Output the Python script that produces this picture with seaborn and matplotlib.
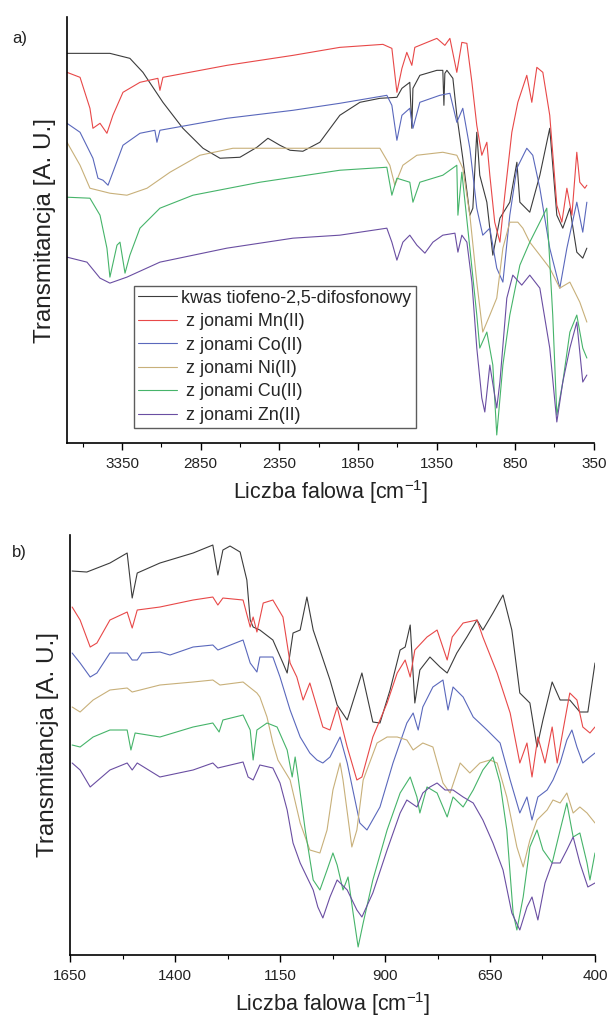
import matplotlib
matplotlib.use("Agg")
import matplotlib.pyplot as plt
import pandas as pd
import seaborn as sns
from matplotlib.ticker import FixedLocator

sns.set_theme(style="white")
plt.rcParams['font.family'] = ['Liberation Sans', 'DejaVu Sans']
plt.rcParams['mathtext.fontset'] = 'custom'
plt.rcParams['mathtext.rm'] = 'Liberation Sans'
plt.rcParams['mathtext.it'] = 'Liberation Sans'

SERIES = ["kwas tiofeno-2,5-difosfonowy", " z jonami Mn(II)", " z jonami Co(II)",
          " z jonami Ni(II)", " z jonami Cu(II)", " z jonami Zn(II)"]
COLORS = ["#3c3c3c", "#e84848", "#5a68bc", "#c8b07a", "#46b46a", "#6a4ea2"]

# ---------------- panel a (3700-350 cm-1) ----------------
A_KWAS_WN = [3700, 3427, 3300, 3217, 3090, 2963, 2835, 2727, 2600, 2492, 2422, 2346, 2282, 2200, 2092, 1965, 1837, 1710, 1602, 1570, 1520, 1507, 1500, 1456, 1348, 1310, 1303, 1297, 1284, 1246, 1221, 1183, 1138, 1119, 1094, 1075, 1030, 992, 947, 884, 839, 820, 757, 693, 630, 585, 547, 502, 458, 420, 394]
A_KWAS_T = [390, 390, 385, 371, 341, 315, 295, 285, 286, 296, 305, 298, 293, 292, 301, 328, 341, 345, 346, 355, 361, 315, 355, 368, 373, 373, 338, 370, 373, 365, 328, 285, 228, 235, 311, 268, 241, 188, 225, 241, 281, 241, 231, 268, 315, 228, 215, 235, 191, 185, 195]

A_MN_WN = [3700, 3617, 3554, 3535, 3490, 3446, 3408, 3344, 3236, 3122, 3109, 3090, 2683, 2263, 1965, 1691, 1634, 1602, 1570, 1539, 1507, 1488, 1348, 1297, 1265, 1221, 1189, 1157, 1125, 1094, 1062, 1030, 1011, 980, 947, 916, 871, 833, 776, 744, 712, 674, 630, 585, 553, 521, 489, 458, 439, 407, 394]
A_MN_T = [371, 366, 335, 315, 320, 310, 328, 351, 361, 365, 353, 366, 378, 388, 396, 399, 395, 351, 375, 391, 378, 396, 405, 398, 405, 371, 401, 400, 361, 318, 288, 301, 268, 221, 201, 248, 311, 341, 368, 341, 376, 371, 328, 238, 221, 255, 228, 291, 261, 255, 258]

A_CO_WN = [3700, 3617, 3535, 3503, 3471, 3439, 3408, 3344, 3236, 3141, 3128, 3109, 2683, 2263, 1965, 1666, 1634, 1602, 1570, 1520, 1500, 1456, 1329, 1265, 1221, 1183, 1138, 1094, 1056, 1011, 967, 928, 884, 839, 776, 738, 693, 630, 566, 521, 458, 420, 394]
A_CO_T = [320, 311, 285, 265, 263, 258, 271, 298, 310, 313, 301, 313, 325, 333, 340, 348, 338, 303, 328, 335, 315, 341, 348, 350, 321, 335, 295, 235, 208, 215, 175, 161, 228, 275, 295, 288, 255, 195, 155, 195, 241, 211, 241]

A_NI_WN = [3700, 3617, 3554, 3427, 3319, 3191, 3045, 2855, 2645, 2263, 1965, 1710, 1647, 1615, 1564, 1475, 1310, 1221, 1183, 1138, 1094, 1056, 1011, 967, 928, 884, 833, 801, 757, 693, 630, 566, 502, 439, 394]
A_NI_T = [301, 278, 255, 250, 248, 255, 271, 288, 295, 295, 295, 295, 278, 258, 278, 288, 291, 288, 275, 228, 161, 111, 128, 145, 195, 221, 221, 215, 201, 188, 175, 155, 161, 141, 121]

A_CU_WN = [3700, 3554, 3490, 3446, 3427, 3382, 3363, 3331, 3300, 3236, 3109, 2899, 2473, 1965, 1666, 1634, 1602, 1520, 1500, 1456, 1310, 1221, 1214, 1189, 1138, 1094, 1075, 1030, 992, 967, 928, 884, 820, 757, 693, 649, 611, 585, 547, 502, 458, 420, 394]
A_CU_T = [246, 245, 228, 195, 166, 198, 201, 170, 188, 215, 235, 248, 261, 273, 276, 248, 265, 261, 241, 261, 268, 278, 228, 271, 195, 128, 95, 111, 78, 8, 78, 128, 178, 201, 221, 235, 128, 28, 61, 111, 128, 95, 85]

A_ZN_WN = [3700, 3573, 3490, 3427, 3319, 3109, 2683, 2263, 1965, 1666, 1634, 1602, 1564, 1520, 1475, 1424, 1373, 1310, 1233, 1214, 1189, 1157, 1125, 1094, 1062, 1043, 1011, 967, 947, 903, 865, 808, 757, 693, 630, 585, 547, 502, 458, 420, 394]
A_ZN_T = [186, 181, 165, 160, 166, 181, 195, 205, 208, 215, 201, 183, 201, 208, 198, 190, 201, 208, 210, 191, 208, 201, 161, 95, 45, 31, 78, 35, 61, 145, 168, 158, 168, 155, 95, 21, 61, 95, 121, 61, 68]

# ---------------- panel b (1650-400 cm-1) ----------------
B_KWAS_WN = [1645, 1610, 1555, 1514, 1502, 1490, 1436, 1357, 1310, 1298, 1286, 1269, 1245, 1229, 1221, 1214, 1198, 1167, 1143, 1133, 1119, 1102, 1086, 1071, 1055, 1031, 1014, 990, 955, 929, 912, 888, 864, 852, 840, 829, 817, 793, 769, 752, 729, 705, 681, 667, 643, 619, 598, 579, 555, 538, 524, 502, 483, 460, 436, 417, 400]
B_KWAS_T = [384, 383, 392, 402, 357, 382, 392, 402, 410, 380, 405, 409, 403, 375, 335, 328, 325, 315, 292, 282, 322, 325, 358, 325, 305, 275, 250, 235, 282, 233, 232, 265, 305, 308, 330, 252, 285, 298, 288, 282, 302, 318, 335, 325, 342, 360, 325, 262, 252, 208, 235, 273, 255, 255, 243, 243, 292]

B_MN_WN = [1645, 1626, 1602, 1586, 1555, 1514, 1502, 1490, 1436, 1357, 1310, 1298, 1286, 1238, 1221, 1214, 1205, 1190, 1167, 1143, 1126, 1110, 1095, 1079, 1062, 1048, 1031, 1014, 990, 967, 955, 929, 895, 871, 852, 840, 829, 800, 776, 752, 740, 714, 681, 667, 633, 602, 579, 562, 550, 536, 519, 502, 490, 476, 460, 443, 429, 412, 400]
B_MN_T = [348, 335, 308, 312, 335, 343, 327, 345, 348, 355, 358, 350, 357, 355, 328, 338, 323, 352, 355, 338, 292, 278, 255, 272, 248, 228, 225, 248, 208, 175, 178, 218, 252, 282, 295, 278, 305, 318, 325, 295, 318, 332, 335, 318, 282, 242, 192, 212, 178, 218, 192, 228, 192, 225, 262, 255, 228, 222, 228]

B_CO_WN = [1645, 1626, 1602, 1586, 1555, 1514, 1502, 1490, 1479, 1436, 1412, 1357, 1310, 1298, 1238, 1221, 1205, 1198, 1167, 1150, 1126, 1102, 1079, 1062, 1048, 1031, 1007, 990, 960, 943, 912, 881, 848, 833, 821, 810, 786, 762, 750, 738, 714, 690, 657, 626, 602, 579, 562, 550, 536, 514, 500, 483, 467, 455, 443, 429, 412, 400]
B_CO_T = [302, 292, 278, 282, 302, 302, 295, 295, 302, 303, 300, 308, 310, 305, 315, 292, 283, 298, 298, 278, 245, 218, 202, 195, 192, 198, 218, 192, 132, 125, 148, 192, 232, 242, 225, 248, 268, 275, 245, 268, 258, 238, 225, 212, 175, 142, 158, 135, 158, 165, 175, 192, 215, 225, 208, 192, 198, 202]

B_NI_WN = [1645, 1626, 1595, 1555, 1514, 1502, 1436, 1357, 1310, 1293, 1238, 1205, 1198, 1181, 1167, 1155, 1126, 1102, 1079, 1055, 1038, 1024, 1007, 1000, 979, 967, 952, 919, 895, 871, 848, 833, 810, 786, 762, 745, 721, 698, 674, 650, 633, 610, 586, 571, 555, 538, 514, 500, 483, 467, 452, 436, 419, 400]
B_NI_T = [248, 243, 255, 265, 267, 263, 270, 273, 275, 270, 273, 262, 258, 238, 212, 195, 175, 132, 105, 102, 125, 165, 192, 175, 108, 125, 175, 212, 218, 218, 215, 205, 212, 208, 172, 162, 192, 182, 192, 195, 192, 158, 108, 88, 115, 135, 145, 155, 152, 162, 142, 148, 142, 132]

B_CU_WN = [1645, 1626, 1595, 1555, 1514, 1505, 1495, 1436, 1357, 1310, 1295, 1286, 1238, 1221, 1214, 1205, 1181, 1157, 1133, 1121, 1114, 1107, 1090, 1071, 1055, 1038, 1024, 1014, 1000, 988, 976, 964, 952, 929, 895, 864, 840, 824, 817, 800, 776, 752, 738, 714, 690, 667, 643, 626, 610, 595, 586, 571, 555, 538, 524, 502, 483, 467, 452, 436, 419, 412, 400]
B_CU_T = [210, 208, 218, 225, 225, 205, 222, 218, 228, 232, 223, 235, 240, 225, 195, 225, 232, 228, 205, 178, 198, 178, 125, 75, 65, 85, 102, 90, 65, 78, 42, 8, 32, 75, 125, 162, 178, 158, 142, 168, 162, 138, 158, 148, 165, 185, 198, 172, 125, 42, 25, 58, 108, 125, 105, 92, 125, 152, 118, 122, 92, 75, 102]

B_ZN_WN = [1645, 1626, 1602, 1555, 1514, 1502, 1490, 1436, 1357, 1310, 1298, 1238, 1226, 1214, 1198, 1167, 1150, 1133, 1119, 1102, 1086, 1071, 1060, 1048, 1031, 1014, 990, 967, 955, 929, 895, 864, 848, 824, 810, 793, 776, 757, 738, 714, 690, 667, 643, 619, 598, 579, 562, 550, 536, 519, 502, 483, 467, 452, 436, 417, 400]
B_ZN_T = [192, 185, 168, 185, 192, 185, 192, 178, 185, 192, 187, 193, 178, 175, 190, 187, 172, 145, 112, 92, 78, 65, 48, 37, 58, 75, 65, 45, 38, 62, 105, 142, 155, 148, 162, 168, 172, 165, 165, 158, 152, 135, 112, 85, 42, 25, 48, 58, 35, 72, 92, 92, 105, 118, 92, 68, 72]

A_WN = [A_KWAS_WN, A_MN_WN, A_CO_WN, A_NI_WN, A_CU_WN, A_ZN_WN]
A_T = [A_KWAS_T, A_MN_T, A_CO_T, A_NI_T, A_CU_T, A_ZN_T]
B_WN = [B_KWAS_WN, B_MN_WN, B_CO_WN, B_NI_WN, B_CU_WN, B_ZN_WN]
B_T = [B_KWAS_T, B_MN_T, B_CO_T, B_NI_T, B_CU_T, B_ZN_T]

A_MAJOR = [3350, 2850, 2350, 1850, 1350, 850, 350]
A_MINOR = [3600, 3100, 2600, 2100, 1600, 1100, 600]
B_MAJOR = [1650, 1400, 1150, 900, 650, 400]
B_MINOR = [1525, 1275, 1025, 775, 525]


def frame(wns, vals):
    parts = [pd.DataFrame({"wn": w, "T": v, "seria": s}) for s, w, v in zip(SERIES, wns, vals)]
    return pd.concat(parts, ignore_index=True)


palette = dict(zip(SERIES, COLORS))
fig = plt.figure(figsize=(6.09, 10.23), dpi=100)
axa = fig.add_axes([0.110, 0.567, 0.865, 0.416])
axb = fig.add_axes([0.115, 0.0665, 0.862, 0.4105])

for ax, wns, vals, xlim, ymax, major, minor in [
        (axa, A_WN, A_T, (3700, 350), 426, A_MAJOR, A_MINOR),
        (axb, B_WN, B_T, (1650, 400), 420, B_MAJOR, B_MINOR)]:
    df = frame(wns, vals)
    sns.lineplot(data=df, x="wn", y="T", hue="seria", palette=palette, sort=False,
                 estimator=None, linewidth=0.8, ax=ax, legend=False)
    ax.set_xlim(*xlim)
    ax.set_ylim(0, ymax)
    ax.set_yticks([])
    ax.xaxis.set_major_locator(FixedLocator(major))
    ax.xaxis.set_minor_locator(FixedLocator(minor))
    ax.tick_params(axis='x', which='major', bottom=True, direction='out', length=5,
                   width=1, color='black', labelsize=11, labelcolor='#222222', pad=5)
    ax.tick_params(axis='x', which='minor', bottom=True, direction='out', length=3,
                   width=0.8, color='black')
    for s in ['top', 'right']:
        ax.spines[s].set_visible(False)
    for s in ['left', 'bottom']:
        ax.spines[s].set_color('black')
        ax.spines[s].set_linewidth(1.2)
    ax.set_xlabel("Liczba falowa [cm$^{-1}$]", fontsize=15.5, color='#222222', labelpad=5)
    ax.set_ylabel("Transmitancja [A. U.]", fontsize=17.5, color='#222222', labelpad=8)

leg = axa.legend(axa.lines[:6], SERIES, loc='lower left', bbox_to_anchor=(0.127, 0.035),
                 fontsize=12.9, frameon=True, fancybox=False, edgecolor='#333333',
                 labelspacing=0.36, handlelength=2.2, handletextpad=0.22,
                 borderpad=0.23, borderaxespad=0)
leg.get_frame().set_linewidth(1.0)
for line in leg.get_lines():
    line.set_linewidth(0.8)

fig.text(0.02, 0.962, "a)", fontsize=12, va='center', color='#222222')
fig.text(0.02, 0.4604, "b)", fontsize=12, va='center', color='#222222')

fig.savefig("out.png", dpi=100)
